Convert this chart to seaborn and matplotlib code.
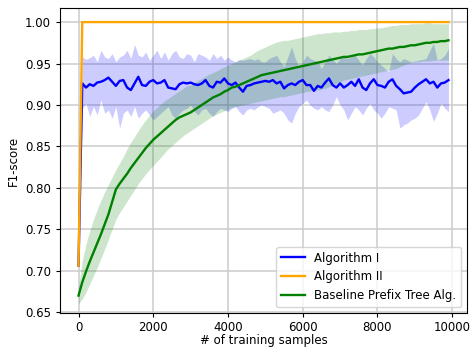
import matplotlib
matplotlib.use("Agg")

import matplotlib.pyplot as plt
import seaborn as sns
import numpy as np
import pandas as pd


# ==================================================
# Data
# ==================================================

samples = list(range(0, 10000, 100))

alg1_mean = [
    0.706, 0.926, 0.921, 0.925, 0.923, 0.927, 0.928, 0.930, 0.933, 0.928,
    0.923, 0.929, 0.930, 0.921, 0.918, 0.926, 0.934, 0.924, 0.923, 0.928,
    0.930, 0.926, 0.927, 0.930, 0.921, 0.920, 0.919, 0.925, 0.927, 0.926,
    0.927, 0.925, 0.924, 0.926, 0.930, 0.923, 0.921, 0.928, 0.927, 0.932,
    0.926, 0.924, 0.927, 0.921, 0.916, 0.923, 0.924, 0.926, 0.927, 0.928,
    0.929, 0.928, 0.930, 0.926, 0.928, 0.920, 0.924, 0.926, 0.924, 0.928,
    0.930, 0.924, 0.924, 0.917, 0.923, 0.921, 0.927, 0.932, 0.924, 0.921,
    0.926, 0.921, 0.924, 0.928, 0.923, 0.931, 0.921, 0.918, 0.926, 0.931,
    0.924, 0.923, 0.921, 0.928, 0.931, 0.923, 0.919, 0.914, 0.915, 0.916,
    0.921, 0.925, 0.928, 0.931, 0.926, 0.928, 0.921, 0.926, 0.927, 0.930,
]

alg1_upper = [
    0.706, 0.958, 0.955, 0.957, 0.960, 0.952, 0.966, 0.958, 0.956, 0.962,
    0.952, 0.958, 0.960, 0.966, 0.956, 0.973, 0.960, 0.958, 0.964, 0.954,
    0.960, 0.966, 0.956, 0.964, 0.954, 0.962, 0.966, 0.958, 0.956, 0.962,
    0.960, 0.952, 0.962, 0.960, 0.958, 0.954, 0.962, 0.956, 0.960, 0.954,
    0.958, 0.954, 0.952, 0.955, 0.954, 0.955, 0.956, 0.954, 0.956, 0.952,
    0.952, 0.956, 0.958, 0.960, 0.952, 0.946, 0.958, 0.970, 0.956, 0.946,
    0.952, 0.960, 0.956, 0.954, 0.952, 0.944, 0.952, 0.960, 0.955, 0.950,
    0.956, 0.958, 0.956, 0.958, 0.960, 0.954, 0.948, 0.956, 0.962, 0.958,
    0.952, 0.948, 0.944, 0.940, 0.962, 0.956, 0.952, 0.956, 0.954, 0.952,
    0.953, 0.954, 0.955, 0.956, 0.966, 0.974, 0.954, 0.956, 0.960, 0.968,
]

alg1_lower = [
    0.706, 0.896, 0.902, 0.886, 0.898, 0.888, 0.906, 0.890, 0.894, 0.884,
    0.898, 0.872, 0.890, 0.894, 0.886, 0.898, 0.884, 0.890, 0.894, 0.888,
    0.882, 0.886, 0.890, 0.894, 0.898, 0.888, 0.884, 0.890, 0.894, 0.896,
    0.900, 0.892, 0.888, 0.894, 0.896, 0.890, 0.886, 0.892, 0.896, 0.894,
    0.892, 0.896, 0.898, 0.892, 0.888, 0.894, 0.896, 0.894, 0.898, 0.900,
    0.898, 0.896, 0.890, 0.892, 0.894, 0.890, 0.882, 0.878, 0.890, 0.898,
    0.902, 0.906, 0.900, 0.896, 0.894, 0.898, 0.894, 0.892, 0.900, 0.910,
    0.900, 0.894, 0.882, 0.890, 0.898, 0.894, 0.888, 0.896, 0.902, 0.894,
    0.890, 0.884, 0.890, 0.898, 0.896, 0.894, 0.872, 0.876, 0.878, 0.882,
    0.884, 0.888, 0.896, 0.904, 0.894, 0.880, 0.890, 0.902, 0.896, 0.892,
]

alg2_mean = [0.706] + [1.0] * 99

base_mean = [
    0.670, 0.686, 0.699, 0.711, 0.722, 0.733, 0.744, 0.756, 0.768, 0.783,
    0.798, 0.805, 0.811, 0.817, 0.824, 0.830, 0.836, 0.842, 0.848, 0.853,
    0.858, 0.862, 0.866, 0.870, 0.874, 0.878, 0.882, 0.885, 0.887, 0.889,
    0.891, 0.894, 0.897, 0.900, 0.903, 0.906, 0.909, 0.911, 0.913, 0.916,
    0.918, 0.921, 0.922, 0.924, 0.926, 0.928, 0.930, 0.932, 0.934, 0.936,
    0.937, 0.938, 0.939, 0.940, 0.941, 0.942, 0.943, 0.944, 0.945, 0.946,
    0.947, 0.948, 0.949, 0.950, 0.951, 0.952, 0.953, 0.954, 0.955, 0.956,
    0.957, 0.958, 0.958, 0.959, 0.960, 0.961, 0.961, 0.962, 0.963, 0.964,
    0.965, 0.966, 0.967, 0.968, 0.968, 0.969, 0.970, 0.970, 0.971, 0.972,
    0.972, 0.973, 0.974, 0.975, 0.975, 0.976, 0.976, 0.977, 0.977, 0.978,
]

base_upper = [
    0.680, 0.712, 0.732, 0.748, 0.762, 0.774, 0.785, 0.795, 0.804, 0.813,
    0.822, 0.830, 0.838, 0.847, 0.855, 0.862, 0.869, 0.876, 0.882, 0.888,
    0.893, 0.897, 0.901, 0.905, 0.908, 0.911, 0.914, 0.917, 0.920, 0.923,
    0.924, 0.927, 0.930, 0.932, 0.935, 0.937, 0.939, 0.941, 0.944, 0.946,
    0.948, 0.950, 0.952, 0.954, 0.956, 0.958, 0.960, 0.963, 0.966, 0.968,
    0.970, 0.972, 0.974, 0.976, 0.977, 0.978, 0.978, 0.979, 0.980, 0.981,
    0.982, 0.983, 0.984, 0.985, 0.986, 0.986, 0.987, 0.987, 0.988, 0.988,
    0.988, 0.989, 0.989, 0.990, 0.990, 0.991, 0.991, 0.991, 0.992, 0.992,
    0.993, 0.993, 0.994, 0.995, 0.996, 0.996, 0.997, 0.997, 0.997, 0.998,
    0.998, 0.998, 0.998, 0.999, 0.999, 0.998, 0.998, 0.998, 0.998, 0.998,
]

base_lower = [
    0.660, 0.666, 0.674, 0.684, 0.694, 0.704, 0.715, 0.726, 0.738, 0.750,
    0.762, 0.770, 0.777, 0.784, 0.791, 0.798, 0.805, 0.811, 0.817, 0.822,
    0.827, 0.832, 0.837, 0.842, 0.847, 0.851, 0.855, 0.859, 0.863, 0.866,
    0.869, 0.872, 0.875, 0.878, 0.881, 0.884, 0.887, 0.889, 0.891, 0.893,
    0.895, 0.897, 0.898, 0.899, 0.900, 0.901, 0.902, 0.903, 0.904, 0.905,
    0.906, 0.907, 0.908, 0.909, 0.910, 0.910, 0.911, 0.912, 0.913, 0.914,
    0.915, 0.916, 0.917, 0.918, 0.918, 0.919, 0.920, 0.922, 0.924, 0.926,
    0.928, 0.930, 0.931, 0.932, 0.933, 0.934, 0.935, 0.936, 0.937, 0.938,
    0.939, 0.940, 0.941, 0.942, 0.943, 0.944, 0.946, 0.948, 0.950, 0.951,
    0.952, 0.952, 0.953, 0.953, 0.953, 0.954, 0.954, 0.954, 0.954, 0.954,
]

series_names = [
    "Algorithm I",
    "Algorithm II",
    "Baseline Prefix Tree Alg."
]

series_colors = ["blue", "orange", "green"]


# ==================================================
# Long-form table for seaborn
# ==================================================

df = pd.concat(
    [
        pd.DataFrame({"samples": samples, "f1": alg1_mean, "method": series_names[0]}),
        pd.DataFrame({"samples": samples, "f1": alg2_mean, "method": series_names[1]}),
        pd.DataFrame({"samples": samples, "f1": base_mean, "method": series_names[2]}),
    ],
    ignore_index=True
)


# ==================================================
# Plot
# ==================================================

plt.rcParams["font.family"] = ["DejaVu Sans"]
plt.rcParams["font.size"] = 8.5

fig = plt.figure(figsize=(4.74, 3.47), dpi=100)

ax = fig.add_axes([0.1266, 0.098, 0.8586, 0.879])

ax.set_axisbelow(True)

ax.grid(True, color="#cccccc", linewidth=1.1)

sns.lineplot(
    data=df,
    x="samples",
    y="f1",
    hue="method",
    hue_order=series_names,
    palette=dict(zip(series_names, series_colors)),
    errorbar=None,
    linewidth=1.7,
    ax=ax
)

ax.fill_between(samples, alg1_lower, alg1_upper, color="blue", alpha=0.2, linewidth=0)

ax.fill_between(samples, base_lower, base_upper, color="green", alpha=0.2, linewidth=0)

ax.set_ylim(0.649, 1.017)

ax.set_xlim(-495, 10395)

ax.set_yticks([0.65, 0.70, 0.75, 0.80, 0.85, 0.90, 0.95, 1.00])

ax.set_xticks([0, 2000, 4000, 6000, 8000, 10000])

ax.set_xlabel("# of training samples", fontsize=8.5, labelpad=0)

ax.set_ylabel("F1-score", fontsize=8.5)

ax.tick_params(labelsize=8.5, length=3)

ax.tick_params(axis="x", pad=2.5)

ax.legend(loc="lower right", fontsize=8.5, title=None)

fig.savefig("out.png", dpi=100)

plt.close(fig)
